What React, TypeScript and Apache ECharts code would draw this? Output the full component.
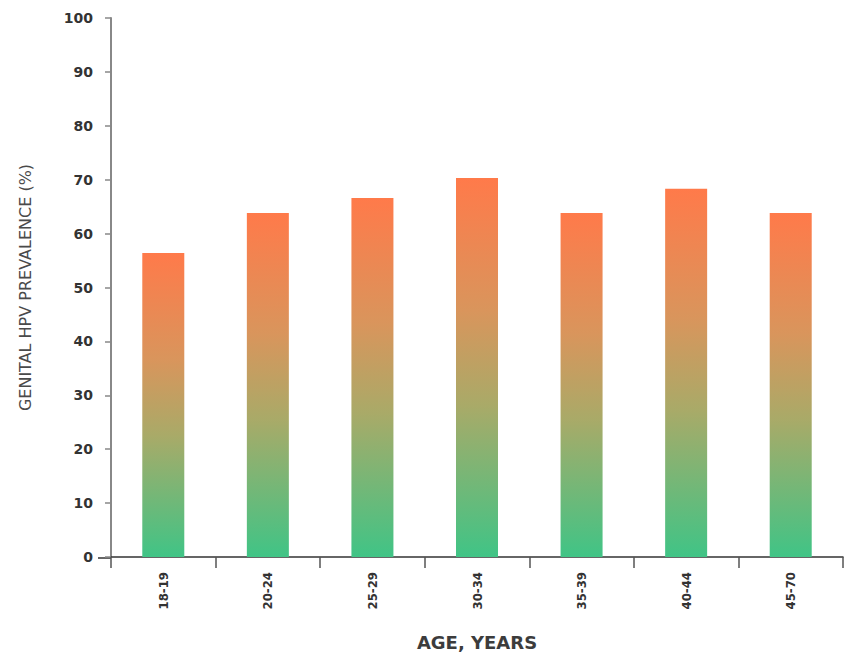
import React, { useEffect, useRef } from "react";
import * as echarts from "echarts";

const ageGroups = ["18-19", "20-24", "25-29", "30-34", "35-39", "40-44", "45-70"];
const prevalence = [56.4, 63.8, 66.6, 70.3, 63.8, 68.3, 63.8];
const yTicks = { min: 0, max: 100, interval: 10 };

export default function App() {
  const ref = useRef<HTMLDivElement>(null);

  useEffect(() => {
    if (!ref.current) return;
    const chart = echarts.init(ref.current, undefined, { renderer: "svg" });
    const barGradient = new echarts.graphic.LinearGradient(0, 0, 0, 1, [
      { offset: 0, color: "#ff7a4a" },
      { offset: 0.35, color: "#d9955c" },
      { offset: 0.6, color: "#a9aa68" },
      { offset: 1, color: "#40c486" },
    ]);
    chart.setOption({
      animation: false,
      backgroundColor: "#ffffff",
      textStyle: { fontFamily: "'DejaVu Sans', sans-serif" },
      grid: { left: 111, right: 2, top: 18, bottom: 98, containLabel: false },
      xAxis: {
        type: "category",
        data: ageGroups,
        name: "AGE, YEARS",
        nameLocation: "middle",
        nameGap: 76,
        nameTextStyle: { fontSize: 18, fontWeight: 600, color: "#3c3c3c" },
        axisLine: { show: true, lineStyle: { color: "#333333", width: 1.5 } },
        axisTick: { show: true, length: 11, lineStyle: { color: "#555555", width: 1.5 } },
        axisLabel: {
          rotate: 90,
          margin: 15,
          fontSize: 13,
          fontWeight: "bold",
          color: "#333333",
          fontFamily: "'DejaVu Sans Condensed', 'DejaVu Sans', sans-serif",
        },
      },
      yAxis: {
        type: "value",
        min: yTicks.min,
        max: yTicks.max,
        interval: yTicks.interval,
        name: "GENITAL HPV PREVALENCE (%)",
        nameLocation: "middle",
        nameGap: 78,
        nameTextStyle: { fontSize: 16, fontWeight: 500, color: "#4a4a4a" },
        axisLine: { show: true, lineStyle: { color: "#888888", width: 2 } },
        axisTick: { show: true, length: 6, lineStyle: { color: "#888888", width: 1.5 } },
        axisLabel: { margin: 18, fontSize: 14, fontWeight: "bold", color: "#333333" },
        splitLine: { show: false },
      },
      graphic: [
        {
          // baseline stub running left of the value axis at zero
          type: "line",
          shape: { x1: 98, y1: 558, x2: 111, y2: 558 },
          style: { stroke: "#333333", lineWidth: 1.5 },
        },
      ],
      series: [
        {
          type: "bar",
          data: prevalence,
          barWidth: 42,
          itemStyle: { color: barGradient },
        },
      ],
    });
    return () => chart.dispose();
  }, []);

  return (
    <div
      ref={ref}
      style={{ position: "fixed", left: 0, top: 0, width: 845, height: 656 }}
    />
  );
}
